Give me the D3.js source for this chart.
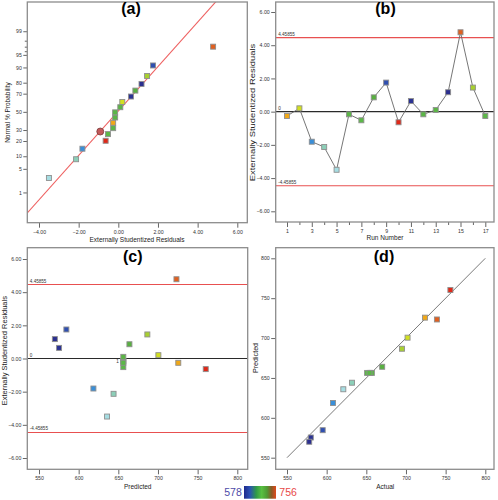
<!DOCTYPE html>
<html><head><meta charset="utf-8">
<script src="https://cdn.jsdelivr.net/npm/d3@7"></script>
<style>
body{margin:0;background:#fff}
svg{display:block}
text{font-family:"Liberation Sans",Arial,sans-serif}
</style>
</head><body>
<svg id="chart" width="498" height="500"></svg>
<script>
// ---------------- data ----------------
const runs       = [1,2,3,4,5,6,7,8,9,10,11,12,13,14,15,16,17];
const actual     = [724,702,608,632,621,655,651,670,595,756,580,655,657,578,739,695,654];
const predicted  = [725.6,700.5,618.6,644,635.8,656.3,656.3,664,584.5,760.2,575.3,656.3,656.3,570,723.3,686.6,656.3];
const residuals  = [-0.26,0.20,-1.81,-2.13,-3.50,-0.16,-0.52,0.86,1.75,-0.64,0.64,-0.16,0.10,1.17,4.78,1.45,-0.26];
const normalPct  = [38.2,61.8,14.7,8.8,2.9,44.1,26.5,73.5,91.2,20.6,67.6,50.0,55.9,79.4,97.1,85.3,32.4];
const limit      = 4.45855;
const probTicks  = [1,5,10,20,30,50,70,80,90,95,99];
const probMinor  = [96,97,98];
const residTicksA= [-4,-2,0,2,4,6];
const residTicks = [-6,-4,-2,0,2,4,6];
const runTicks   = [1,3,5,7,9,11,13,15,17];
const runMinor   = [2,4,6,8,10,12,14,16];
const valueTicks = [550,600,650,700,750,800];
const highlight  = {resid:-0.91, pct:29};         // circled point in (a)
const fitLine    = {intercept:0.04, slope:0.641}; // z = a + b*resid
const clusterNote = {pred:649, res:-0.3, text:'1'}; // small count label in (c)
const colorMin = 578, colorMax = 756;
const colorDomain = [578,595,608,621,632,651,670,695,702,724,739,756];
const colorRange  = ['#2b2f8f','#2f4fb0','#3a8fd8','#a6dde2','#8ccfb8','#5cb848','#58b040','#a8d030','#d2e020','#f0a818','#e06020','#e02818'];

// ---------------- helpers ----------------
const svg = d3.select('#chart');
const color = d3.scaleLinear().domain(colorDomain).range(colorRange);
const rows = runs.map((r,i)=>({run:r, act:actual[i], pred:predicted[i], res:residuals[i], pct:normalPct[i]}));
const FRAME = '#8c8c8c', TICKC = '#555', TXT = '#333';

function frame(g, f){
  g.append('rect').attr('x',f.x0).attr('y',f.y0).attr('width',f.x1-f.x0).attr('height',f.y1-f.y0)
   .attr('fill','none').attr('stroke',FRAME).attr('stroke-width',1.3);
}
function styleAxis(ax){
  ax.select('.domain').remove();
  ax.selectAll('.tick line').attr('stroke',TICKC).attr('stroke-width',0.9);
  ax.selectAll('.tick text').attr('fill',TXT).style('font-size','5.2px');
}
function axisB(g, scale, ticks, f, fmt, minor){
  const ax = g.append('g').attr('transform',`translate(0,${f.y1})`)
    .call(d3.axisBottom(scale).tickValues(ticks).tickSize(5).tickPadding(2.5).tickFormat(fmt));
  styleAxis(ax);
  if(minor){
    const m = g.append('g').attr('transform',`translate(0,${f.y1})`)
      .call(d3.axisBottom(scale).tickValues(minor).tickSize(3).tickFormat(''));
    m.select('.domain').remove(); m.selectAll('.tick line').attr('stroke',TICKC).attr('stroke-width',0.9);
  }
}
function axisL(g, scale, ticks, f, fmt){
  const ax = g.append('g').attr('transform',`translate(${f.x0},0)`)
    .call(d3.axisLeft(scale).tickValues(ticks).tickSize(4.5).tickPadding(1.5).tickFormat(fmt));
  styleAxis(ax);
}
function title(g, txt, x, y){
  g.append('text').attr('x',x).attr('y',y).attr('text-anchor','middle')
   .style('font-size','16px').style('font-weight','bold').attr('fill','#000').text(txt);
}
function xLabel(g, txt, x, y){
  g.append('text').attr('x',x).attr('y',y).attr('text-anchor','middle')
   .style('font-size','6.5px').attr('fill','#222').text(txt);
}
function yLabel(g, txt, x, y, sy){
  g.append('text').attr('transform',`translate(${x},${y}) rotate(-90) scale(${sy||1},1)`)
   .attr('text-anchor','middle').style('font-size','6.5px').attr('fill','#222').text(txt);
}
function squares(g, data, xf, yf){
  g.selectAll(null).data(data).enter().append('rect')
   .attr('x',d=>xf(d)-2.5).attr('y',d=>yf(d)-2.5).attr('width',5).attr('height',5)
   .attr('fill',d=>color(d.act)).attr('stroke','#8f8f8f').attr('stroke-width',0.9);
}
function refLines(g, f, y){
  [limit, 0, -limit].forEach(v=>{
    g.append('line').attr('x1',f.x0).attr('x2',f.x1).attr('y1',y(v)).attr('y2',y(v))
     .attr('stroke', v===0 ? '#2a2a2a' : '#e85050').attr('stroke-width', v===0 ? 1.2 : 1.1);
    g.append('text').attr('x',f.x0+2.5).attr('y',y(v)-2).style('font-size','4.6px').attr('fill',TXT)
     .text(v===0 ? '0' : (v>0 ? String(limit) : '-'+limit));
  });
}
const fmt2 = d3.format('.2f');

// inverse normal CDF (Acklam) for the probability axis
function invNorm(p){
  const a=[-39.69683028665376,220.9460984245205,-275.9285104469687,138.3577518672690,-30.66479806614716,2.506628277459239],
        b=[-54.47609879822406,161.5858368580409,-155.6989798598866,66.80131188771972,-13.28068155288572],
        c=[-0.007784894002430293,-0.3223964580411365,-2.400758277161838,-2.549732539343734,4.374664141464968,2.938163982698783],
        d=[0.007784695709041462,0.3224671290700398,2.445134137142996,3.754408661907416];
  const pl=0.02425, ph=1-pl; let q,r;
  if(p<pl){q=Math.sqrt(-2*Math.log(p));return (((((c[0]*q+c[1])*q+c[2])*q+c[3])*q+c[4])*q+c[5])/((((d[0]*q+d[1])*q+d[2])*q+d[3])*q+1);}
  if(p>ph){q=Math.sqrt(-2*Math.log(1-p));return -(((((c[0]*q+c[1])*q+c[2])*q+c[3])*q+c[4])*q+c[5])/((((d[0]*q+d[1])*q+d[2])*q+d[3])*q+1);}
  q=p-0.5;r=q*q;return (((((a[0]*r+a[1])*r+a[2])*r+a[3])*r+a[4])*r+a[5])*q/(((((b[0]*r+b[1])*r+b[2])*r+b[3])*r+b[4])*r+1);
}

// ---------------- (a) normal probability ----------------
{
  const f = {x0:27.3, x1:247.3, y0:2, y1:222.7};
  const g = svg.append('g');
  const x = d3.scaleLinear().domain([-4,6]).range([39,237.3]);
  const z = d3.scaleLinear().domain([-3.185,3.185]).range([f.y1,f.y0]);
  const yP = pct => z(invNorm(pct/100));
  const ax = g.append('g').attr('transform',`translate(${f.x0},0)`);
  probTicks.forEach(v=>{
    ax.append('line').attr('x1',-4).attr('x2',0).attr('y1',yP(v)).attr('y2',yP(v)).attr('stroke',TICKC).attr('stroke-width',0.9);
    ax.append('text').attr('x',-5.5).attr('y',yP(v)).attr('dy','0.32em').attr('text-anchor','end')
      .style('font-size','5.2px').attr('fill',TXT).text(v);
  });
  probMinor.forEach(v=>{
    ax.append('line').attr('x1',-2.5).attr('x2',0).attr('y1',yP(v)).attr('y2',yP(v)).attr('stroke',TICKC).attr('stroke-width',0.9);
  });
  axisB(g, x, residTicksA, f, fmt2);
  g.append('clipPath').attr('id','clipA').append('rect').attr('x',f.x0).attr('y',f.y0).attr('width',f.x1-f.x0).attr('height',f.y1-f.y0);
  const lx = [-4.6, 6.5];
  g.append('line').attr('clip-path','url(#clipA)')
   .attr('x1',x(lx[0])).attr('y1',z(fitLine.intercept+fitLine.slope*lx[0]))
   .attr('x2',x(lx[1])).attr('y2',z(fitLine.intercept+fitLine.slope*lx[1]))
   .attr('stroke','#ee6262').attr('stroke-width',1.1);
  squares(g, rows, d=>x(d.res), d=>yP(d.pct));
  g.append('circle').attr('cx',x(highlight.resid)).attr('cy',yP(highlight.pct)).attr('r',3.5)
   .attr('fill','#c25a5a').attr('stroke','#7a3a3a').attr('stroke-width',0.8);
  frame(g,f);
  title(g,'(a)',131,13.6);
  xLabel(g,'Externally Studentized Residuals',137,242.3);
  yLabel(g,'Normal % Probability',10.3,112.5);
}

// ---------------- (b) residuals vs run ----------------
{
  const f = {x0:275.7, x1:494, y0:2, y1:222};
  const g = svg.append('g');
  const x = d3.scaleLinear().domain([1,17]).range([287,485.3]);
  const y = d3.scaleLinear().domain([-6,6]).range([211.3,12]);
  axisL(g, y, residTicks, f, fmt2);
  axisB(g, x, runTicks, f, d3.format('d'), runMinor);
  refLines(g, f, y);
  g.append('path').datum(rows).attr('fill','none').attr('stroke','#666').attr('stroke-width',0.9)
   .attr('d', d3.line().x(d=>x(d.run)).y(d=>y(d.res)));
  squares(g, rows, d=>x(d.run), d=>y(d.res));
  frame(g,f);
  title(g,'(b)',385.5,13.6);
  xLabel(g,'Run Number',385,240.2);
  yLabel(g,'Externally Studentized Residuals',254.6,112.5,1.45);
}

// ---------------- (c) residuals vs predicted ----------------
{
  const f = {x0:27.3, x1:247.7, y0:247.7, y1:469.3};
  const g = svg.append('g');
  const x = d3.scaleLinear().domain([550,800]).range([39,237.3]);
  const y = d3.scaleLinear().domain([-6,6]).range([458,259]);
  axisL(g, y, residTicks, f, fmt2);
  axisB(g, x, valueTicks, f, d3.format('d'));
  refLines(g, f, y);
  squares(g, rows, d=>x(d.pred), d=>y(d.res));
  g.append('text').attr('x',x(clusterNote.pred)).attr('y',y(clusterNote.res)).attr('text-anchor','middle')
   .style('font-size','4.6px').attr('fill',TXT).text(clusterNote.text);
  frame(g,f);
  title(g,'(c)',132.8,261.6);
  xLabel(g,'Predicted',137.7,488.6);
  yLabel(g,'Externally Studentized Residuals',6.6,350.7,1.15);
}

// ---------------- (d) predicted vs actual ----------------
{
  const f = {x0:275.7, x1:494, y0:247.7, y1:469.3};
  const g = svg.append('g');
  const x = d3.scaleLinear().domain([550,800]).range([287,485.3]);
  const y = d3.scaleLinear().domain([550,800]).range([457.7,258.3]);
  axisL(g, y, valueTicks, f, d3.format('d'));
  axisB(g, x, valueTicks, f, d3.format('d'));
  g.append('line').attr('x1',x(550)).attr('y1',y(550)).attr('x2',x(800)).attr('y2',y(800))
   .attr('stroke','#7a7a7a').attr('stroke-width',1);
  squares(g, rows, d=>x(d.act), d=>y(d.pred));
  frame(g,f);
  title(g,'(d)',384,261.6);
  xLabel(g,'Actual',385.3,489);
  yLabel(g,'Predicted',257.6,358,1.1);
}

// ---------------- colour legend ----------------
{
  const defs = svg.append('defs');
  const grad = defs.append('linearGradient').attr('id','lg');
  const legendStops = [[0,'#1e2a8c'],[0.18,'#2b50b4'],[0.38,'#2f9a48'],[0.55,'#58c040'],[0.72,'#4f9a34'],[0.86,'#8a5a26'],[1,'#e04a1c']];
  legendStops.forEach(s=>grad.append('stop').attr('offset',s[0]).attr('stop-color',s[1]));
  svg.append('rect').attr('x',244).attr('y',486).attr('width',32).attr('height',12.7).attr('fill','url(#lg)');
  svg.append('text').attr('x',241.8).attr('y',496).attr('text-anchor','end').style('font-size','10.5px')
     .attr('fill','#4d4aa8').text(colorMin);
  svg.append('text').attr('x',279.3).attr('y',496).style('font-size','10.5px')
     .attr('fill','#e84848').text(colorMax);
}
</script>
</body></html>
